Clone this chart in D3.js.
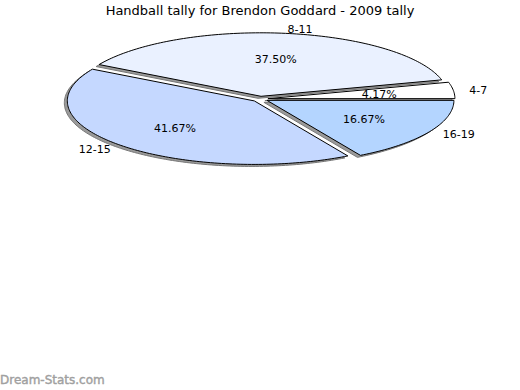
<!DOCTYPE html>
<html><head><meta charset="utf-8">
<script src="https://cdn.jsdelivr.net/npm/d3@7"></script>
<style>body{margin:0;background:#fff;}svg{display:block;font-family:"DejaVu Sans",sans-serif;}</style>
</head><body>
<svg id="c" width="520" height="390"></svg>
<script>
const categories = ["4-7", "8-11", "12-15", "16-19"];
const values = [1, 9, 10, 4];
const colors = ["#ffffff", "#eaf1ff", "#c5d8ff", "#b4d5ff"];
const title = "Handball tally for Brendon Goddard - 2009 tally";

const svg = d3.select("#c");
const W = 520;
const cx = 260, cy = 99, rx = 187, ry = 63.5, explode = 8;
const total = d3.sum(values);

const pie = d3.pie().sort(null).value(d => d)(values);
// angles used as math angles (counterclockwise from 3 o'clock)
const line = d3.line();
function slicePath(p) {
  const m = (p.startAngle + p.endAngle) / 2;
  const ox = cx + explode * Math.cos(m);
  const oy = cy - explode * (ry / rx) * Math.sin(m);
  const n = Math.max(4, Math.ceil((p.endAngle - p.startAngle) / 0.02));
  const pts = [[ox, oy]];
  for (let i = 0; i <= n; i++) {
    const a = p.startAngle + (p.endAngle - p.startAngle) * i / n;
    pts.push([ox + rx * Math.cos(a), oy - ry * Math.sin(a)]);
  }
  return line(pts) + "Z";
}

svg.append("text").attr("x", W / 2).attr("y", 15).attr("text-anchor", "middle")
  .attr("font-size", 13).attr("fill", "#000").text(title);

const shadow = svg.append("g").attr("transform", "translate(-3,2)");
shadow.selectAll("path").data(pie).join("path")
  .attr("d", slicePath).attr("fill", "#9a9a9a").attr("stroke", "#777").attr("stroke-width", 1);

svg.append("g").selectAll("path").data(pie).join("path")
  .attr("d", slicePath).attr("fill", (d, i) => colors[i])
  .attr("stroke", "#000").attr("stroke-width", 1).attr("stroke-linejoin", "round");

const fmt = v => (v / total * 100).toFixed(2) + "%";
svg.append("g").selectAll("text").data(pie).join("text")
  .attr("x", p => { const m = (p.startAngle + p.endAngle) / 2; return cx + explode * Math.cos(m) + 0.6 * rx * Math.cos(m); })
  .attr("y", p => { const m = (p.startAngle + p.endAngle) / 2; return cy - explode * (ry / rx) * Math.sin(m) - 0.6 * ry * Math.sin(m) + 4; })
  .attr("text-anchor", "middle").attr("font-size", 11).attr("fill", "#000")
  .text(p => fmt(p.value));

svg.append("g").selectAll("text").data(pie).join("text")
  .attr("x", p => { const m = (p.startAngle + p.endAngle) / 2; return cx + (rx + 24) * Math.cos(m); })
  .attr("y", p => { const m = (p.startAngle + p.endAngle) / 2; return cy - (ry + 7) * Math.sin(m) + 4; })
  .attr("text-anchor", p => Math.cos((p.startAngle + p.endAngle) / 2) >= 0 ? "start" : "end")
  .attr("font-size", 11).attr("fill", "#000")
  .text((p, i) => categories[i]);

svg.append("text").attr("x", 0).attr("y", 384).attr("font-size", 12)
  .attr("fill", "#a0a0a0").attr("stroke", "#a0a0a0").attr("stroke-width", 0.4)
  .text("Dream-Stats.com");
</script>
</body></html>
